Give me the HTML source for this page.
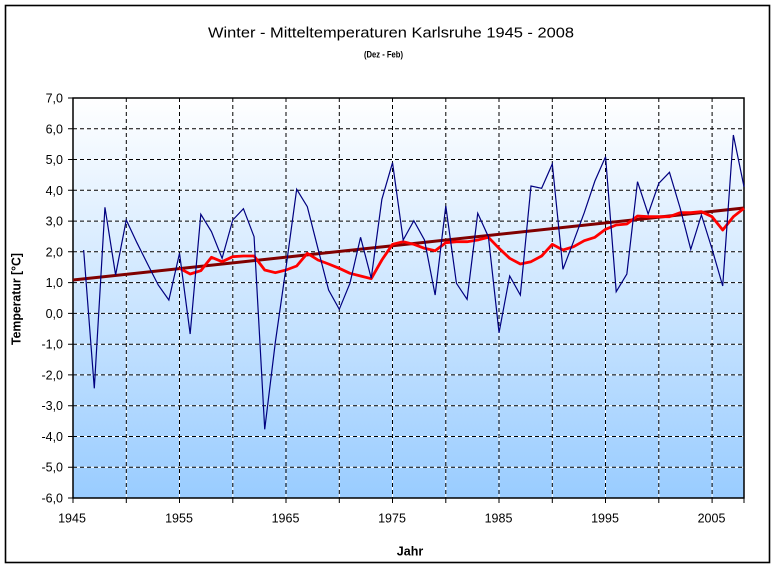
<!DOCTYPE html>
<html>
<head>
<meta charset="utf-8">
<style>
html,body{margin:0;padding:0;background:#fff;}
svg{display:block;}
text{font-family:"Liberation Sans",Arial,sans-serif;fill:#000;}
</style>
</head>
<body>
<svg width="776" height="569" viewBox="0 0 776 569" xmlns="http://www.w3.org/2000/svg">
<defs>
<linearGradient id="bg" x1="0" y1="0" x2="0" y2="1">
<stop offset="0" stop-color="#FFFFFF"/>
<stop offset="1" stop-color="#99CCFF"/>
</linearGradient>
</defs>
<rect x="0" y="0" width="776" height="569" fill="#fff"/>
<rect x="5.5" y="5.5" width="764" height="557" fill="none" stroke="#000" stroke-width="1.6"/>

<text x="391" y="37.5" font-size="15" text-anchor="middle" textLength="366" lengthAdjust="spacingAndGlyphs">Winter - Mitteltemperaturen Karlsruhe 1945 - 2008</text>
<text x="383.5" y="57.5" font-size="9" font-weight="bold" text-anchor="middle" textLength="39" lengthAdjust="spacingAndGlyphs">(Dez - Feb)</text>

<rect x="73" y="98" width="671" height="400" fill="url(#bg)"/>

<g stroke-width="1" fill="none">
<g stroke="#fff">
<path d="M73 128.8H744M73 159.5H744M73 190.3H744M73 221.1H744M73 251.8H744M73 282.6H744M73 313.4H744M73 344.2H744M73 374.9H744M73 405.7H744M73 436.5H744M73 467.2H744"/>
<path d="M126.3 98V498M179.5 98V498M232.8 98V498M286 98V498M339.3 98V498M392.5 98V498M445.8 98V498M499 98V498M552.3 98V498M605.5 98V498M658.8 98V498M712.1 98V498"/>
</g>
<g stroke="#000" stroke-dasharray="4 3">
<path d="M73 128.8H744M73 159.5H744M73 190.3H744M73 221.1H744M73 251.8H744M73 282.6H744M73 313.4H744M73 344.2H744M73 374.9H744M73 405.7H744M73 436.5H744M73 467.2H744"/>
<path d="M126.3 98V498M179.5 98V498M232.8 98V498M286 98V498M339.3 98V498M392.5 98V498M445.8 98V498M499 98V498M552.3 98V498M605.5 98V498M658.8 98V498M712.1 98V498"/>
</g>
</g>

<rect x="73" y="98" width="671" height="400" fill="none" stroke="#000" stroke-width="1.5"/>

<g stroke="#000" stroke-width="1">
<path d="M68 98H73M68 128.8H73M68 159.5H73M68 190.3H73M68 221.1H73M68 251.8H73M68 282.6H73M68 313.4H73M68 344.2H73M68 374.9H73M68 405.7H73M68 436.5H73M68 467.2H73M68 498H73"/>
<path d="M73 498V503M126.3 498V503M179.5 498V503M232.8 498V503M286 498V503M339.3 498V503M392.5 498V503M445.8 498V503M499 498V503M552.3 498V503M605.5 498V503M658.8 498V503M712.1 498V503M744 498V503"/>
</g>

<g font-size="12.5" text-anchor="end">
<text x="63" y="102.5">7,0</text>
<text x="63" y="133.3">6,0</text>
<text x="63" y="164">5,0</text>
<text x="63" y="194.8">4,0</text>
<text x="63" y="225.6">3,0</text>
<text x="63" y="256.3">2,0</text>
<text x="63" y="287.1">1,0</text>
<text x="63" y="317.9">0,0</text>
<text x="63" y="348.7">-1,0</text>
<text x="63" y="379.4">-2,0</text>
<text x="63" y="410.2">-3,0</text>
<text x="63" y="441">-4,0</text>
<text x="63" y="471.7">-5,0</text>
<text x="63" y="502.5">-6,0</text>
</g>
<g font-size="12.5" text-anchor="middle">
<text x="72" y="522.5">1945</text>
<text x="179" y="522.5">1955</text>
<text x="285.5" y="522.5">1965</text>
<text x="392" y="522.5">1975</text>
<text x="498.5" y="522.5">1985</text>
<text x="605" y="522.5">1995</text>
<text x="711.5" y="522.5">2005</text>
</g>

<text x="410" y="555.5" font-size="12.5" font-weight="bold" text-anchor="middle">Jahr</text>
<text transform="translate(20.7,299) rotate(-90)" font-size="12.5" font-weight="bold" text-anchor="middle" textLength="92" lengthAdjust="spacingAndGlyphs">Temperatur [°C]</text>

<line x1="73" y1="280" x2="744" y2="208" stroke="#800000" stroke-width="3"/>

<polyline fill="none" stroke="#FF0000" stroke-width="2.8" stroke-linejoin="round" points="179.51,268.3 190.16,274 200.81,270.7 211.46,257.3 222.11,261.7 232.77,256.7 243.42,256 254.07,256 264.72,270 275.37,272.7 286.02,270 296.67,266 307.32,253.3 317.97,260 328.62,264 339.28,268.3 349.93,273.3 360.58,276 371.23,278.7 381.88,260 392.53,244.3 403.18,241.7 413.83,244.3 424.48,248.3 435.13,250.7 445.79,242.7 456.44,241.7 467.09,241.7 477.74,240 488.39,237.3 499.04,248.3 509.69,258.3 520.34,264 530.99,261.7 541.64,256 552.3,244.3 562.95,250 573.6,246.7 584.25,240.7 594.9,237.3 605.55,229.3 616.2,225 626.85,224 637.5,216 648.15,216.7 658.81,216.7 669.46,216.7 680.11,212.7 690.76,212.7 701.41,211.7 712.06,216.7 722.71,230 733.36,216.7 744,208.3"/>

<polyline fill="none" stroke="#000080" stroke-width="1.2" stroke-linejoin="miter" points="83.65,250 94.3,388.3 104.95,207.3 115.6,275 126.26,220 136.91,242.7 147.56,264 158.21,285 168.86,300 179.51,253.3 190.16,334 200.81,214.3 211.46,231.7 222.11,258.3 232.77,220 243.42,208.7 254.07,236.7 264.72,429.3 275.37,342 286.02,267.6 296.67,189.3 307.32,206.7 317.97,248.7 328.62,290 339.28,309.3 349.93,283.3 360.58,237.3 371.23,278.3 381.88,199.3 392.53,162.7 403.18,240 413.83,220.7 424.48,240 435.13,295 445.79,206 456.44,283.3 467.09,299.3 477.74,213.3 488.39,236.7 499.04,332.7 509.69,276 520.34,295 530.99,186 541.64,188.3 552.3,164 562.95,269.3 573.6,241.3 584.25,212.7 594.9,181 605.55,156.7 616.2,291.7 626.85,274 637.5,181.7 648.15,214 658.81,183.3 669.46,172.3 680.11,208 690.76,249.3 701.41,215 712.06,249 722.71,286 733.36,135 744,186.7"/>
</svg>
</body>
</html>
